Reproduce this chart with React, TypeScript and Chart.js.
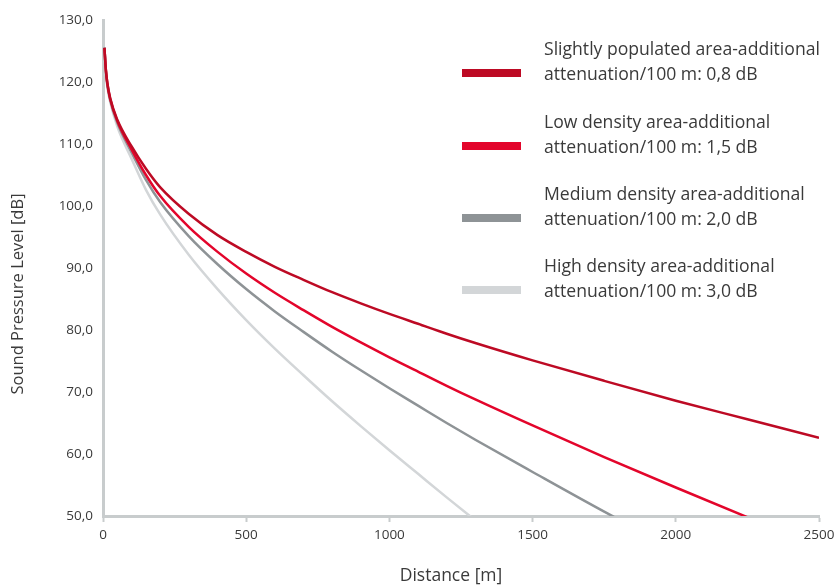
import React, { useEffect, useRef } from "react";
import { Chart, registerables } from "chart.js";

Chart.register(...registerables);

// Distance [m]
const DISTANCES = [5, 10, 15, 25, 50, 100, 150, 200, 300, 400, 500, 600, 700, 800, 900, 1000, 1100, 1200, 1300, 1500, 1750, 2000, 2250, 2500];

// Sound pressure level [dB] per series
const SLIGHT = [125.5, 122.0, 119.9, 117.4, 113.9, 109.6, 106.0, 103.0, 98.7, 95.3, 92.6, 90.2, 88.1, 86.1, 84.3, 82.6, 81.0, 79.4, 77.9, 75.1, 71.8, 68.6, 65.6, 62.6];
const LOW = [125.5, 121.9, 119.8, 117.3, 113.7, 109.1, 105.0, 101.6, 96.6, 92.6, 89.1, 86.0, 83.2, 80.5, 78.0, 75.6, 73.3, 71.0, 68.8, 64.6, 59.5, 54.6, 49.8, 45.1];
const MEDIUM = [125.6, 121.8, 119.6, 117.1, 113.4, 108.6, 104.2, 100.6, 95.1, 90.6, 86.6, 83.0, 79.7, 76.5, 73.5, 70.6, 67.8, 65.0, 62.3, 57.1, 50.7, 44.6];
const HIGH = [125.6, 121.6, 119.3, 116.8, 112.8, 107.6, 102.6, 98.6, 92.1, 86.6, 81.6, 77.0, 72.7, 68.5, 64.5, 60.6, 56.8, 53.0, 49.3, 42.1];

const LEGEND_LINES = [
  ["Slightly populated area-additional", "attenuation/100 m: 0,8 dB"],
  ["Low density area-additional", "attenuation/100 m: 1,5 dB"],
  ["Medium density area-additional", "attenuation/100 m: 2,0 dB"],
  ["High density area-additional", "attenuation/100 m: 3,0 dB"],
];

const COLORS = ["#bd0a24", "#e3052b", "#8e9396", "#d3d6d8"];

const Y_TITLE = "Sound Pressure Level [dB]";
const X_TITLE = "Distance [m]";

const FONT = "'Open Sans', 'Noto Sans', sans-serif";
const TEXT_COLOR = "#3a3a3a";
const AXIS_COLOR = "#c8cccd";

const toPoints = (values: number[]) => values.map((v, i) => ({ x: DISTANCES[i], y: v }));

const overlayPlugin = {
  id: "overlayText",
  afterDraw(chart: any) {
    const ctx = chart.ctx;
    ctx.save();
    ctx.fillStyle = TEXT_COLOR;
    // axis titles
    ctx.textAlign = "center";
    ctx.textBaseline = "middle";
    ctx.font = `17.5px ${FONT}`;
    ctx.fillText(X_TITLE, 451, 576);
    ctx.save();
    ctx.font = `16.5px ${FONT}`;
    ctx.translate(18.5, 294);
    ctx.rotate(-Math.PI / 2);
    ctx.fillText(Y_TITLE, 0, 0);
    ctx.restore();
    // legend
    const swatchY = [73, 146, 218, 290];
    chart.data.datasets.forEach((ds: any, i: number) => {
      const y = swatchY[i];
      ctx.fillStyle = ds.borderColor;
      ctx.fillRect(462, y - 4, 59, 8);
      ctx.fillStyle = TEXT_COLOR;
      ctx.font = `17.6px ${FONT}`;
      ctx.textAlign = "left";
      ctx.textBaseline = "alphabetic";
      ctx.fillText(LEGEND_LINES[i][0], 544, y - 18);
      ctx.fillText(LEGEND_LINES[i][1], 544, y + 7);
    });
    ctx.restore();
  },
};

export default function App() {
  const canvasRef = useRef<HTMLCanvasElement | null>(null);

  useEffect(() => {
    document.body.style.margin = "0";
    const canvas = canvasRef.current;
    if (!canvas) return;
    const series = [SLIGHT, LOW, MEDIUM, HIGH];
    const chart = new Chart(canvas, {
      type: "line",
      data: {
        datasets: series.map((vals, i) => ({
          label: LEGEND_LINES[i].join(" "),
          data: toPoints(vals),
          borderColor: COLORS[i],
          backgroundColor: COLORS[i],
          borderWidth: 2.5,
          pointRadius: 0,
          cubicInterpolationMode: "monotone" as const,
          fill: false,
        })),
      },
      options: {
        responsive: false,
        animation: false,
        devicePixelRatio: 1,
        layout: { padding: { top: 20, right: 18, left: 0, bottom: 0 } },
        plugins: {
          legend: { display: false },
          tooltip: { enabled: false },
        },
        scales: {
          x: {
            type: "linear",
            min: 0,
            max: 2500,
            afterFit: (scale: any) => {
              scale.height = 70;
              scale.paddingRight = 0;
              scale.paddingLeft = 0;
            },
            ticks: {
              stepSize: 500,
              padding: 5,
              color: TEXT_COLOR,
              font: { family: FONT, size: 13.5 },
              maxRotation: 0,
              callback: (v: any) => String(v),
            },
            grid: {
              drawOnChartArea: false,
              drawTicks: true,
              tickLength: 6,
              tickColor: AXIS_COLOR,
              tickWidth: 2,
            },
            border: { color: AXIS_COLOR, width: 3 },
          },
          y: {
            min: 50,
            max: 130,
            afterFit: (scale: any) => {
              scale.width = 103;
            },
            ticks: {
              stepSize: 10,
              padding: 10,
              color: TEXT_COLOR,
              font: { family: FONT, size: 13.5 },
              callback: (v: any) => Number(v).toFixed(1).replace(".", ","),
            },
            grid: { display: false, drawTicks: false },
            border: { color: AXIS_COLOR, width: 3 },
          },
        },
      },
      plugins: [overlayPlugin],
    });
    return () => chart.destroy();
  }, []);

  return (
    <div style={{ width: 837, height: 586, position: "relative" }}>
      <canvas ref={canvasRef} width={837} height={586} />
    </div>
  );
}
